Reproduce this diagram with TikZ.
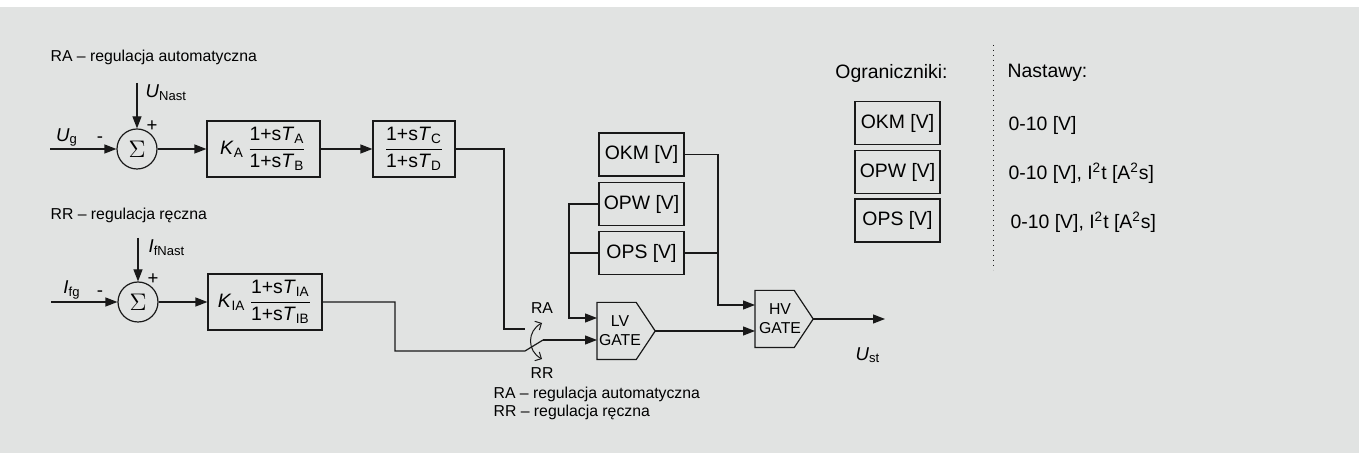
\documentclass[tikz,border=0pt]{standalone}
\usepackage{amsmath}
\usepackage{fontspec}
\setmainfont{Liberation Sans}
\usetikzlibrary{arrows.meta}

\definecolor{bgGrey}{RGB}{225,227,226}
\definecolor{lineDark}{RGB}{25,25,25}

\newcommand{\smallTxt}{\fontsize{7.9}{9.5}\selectfont}
\newcommand{\bigTxt}{\fontsize{9.7}{11.5}\selectfont}
\newcommand{\trfrac}[2]{$\dfrac{\text{#1}}{\text{#2}}$}
% outline of a gate node: flat west side, pointed east side
\newcommand{\gateOutline}[1]{%
    \draw (#1.north west) -- ([xshift=-9.5pt]#1.north east) -- (#1.east)
        -- ([xshift=-9.5pt]#1.south east) -- (#1.south west) -- cycle;}

\begin{document}
\begin{tikzpicture}[x=0.5pt,y=-0.5pt,
    line width=0.6pt, draw=lineDark, >={Triangle[length=6pt,width=4.5pt]},
    block/.style={draw, minimum height=28pt, inner sep=1pt, font=\bigTxt},
    limiter/.style={draw, minimum width=42.5pt, minimum height=21.5pt, inner sep=1pt, font=\bigTxt},
    summer/.style={draw, circle, minimum size=20pt, inner sep=0pt},
    gatebox/.style={minimum width=28.5pt, minimum height=28pt, inner sep=0pt, anchor=west},
    gatetxt/.style={align=center, font=\smallTxt, inner sep=0pt},
    note/.style={font=\smallTxt, anchor=west, inner sep=0pt},
    lbl/.style={font=\fontsize{9.3}{11}\selectfont, inner sep=0pt}]
    \useasboundingbox (0,0) rectangle (1359,453);
    \fill[white] (0,0) rectangle (1359,453);
    \fill[bgGrey] (0,7) rectangle (1359,453);

    % upper branch: RA
    \node[note] (raTitle) at (50,57) {RA -- regulacja automatyczna};
    \coordinate (Ug) at (50,149);
    \coordinate (UNast) at (137,83);
    \node[summer] (sumA) at (137,149) {\fontsize{13}{15}\selectfont$\Sigma$};
    \node[block, minimum width=56.5pt] (KA) at (263.5,149)
        {\textit{K}\textsubscript{A}\,\trfrac{1+s\textit{T}\textsubscript{A}}{1+s\textit{T}\textsubscript{B}}};
    \node[block, minimum width=41pt] (CD) at (414,149)
        {\trfrac{1+s\textit{T}\textsubscript{C}}{1+s\textit{T}\textsubscript{D}}};
    \node[lbl] at (67,137) {\textit{U}\textsubscript{g}};
    \node[lbl] at (100,140) {-};
    \node[lbl] at (152,126) {+};
    \node[lbl, anchor=west] at (145,93) {\textit{U}\textsubscript{Nast}};

    % lower branch: RR
    \node[note] (rrTitle) at (50,215) {RR -- regulacja ręczna};
    \coordinate (Ifg) at (51,302);
    \coordinate (IfNast) at (138,238);
    \node[summer] (sumB) at (138,302) {\fontsize{13}{15}\selectfont$\Sigma$};
    \node[block, minimum width=57pt] (KIA) at (265,302)
        {\textit{K}\textsubscript{IA}\,\trfrac{1+s\textit{T}\textsubscript{IA}}{1+s\textit{T}\textsubscript{IB}}};
    \node[lbl] at (72,290) {\textit{I}\textsubscript{fg}};
    \node[lbl] at (100,294) {-};
    \node[lbl] at (153,279) {+};
    \node[lbl, anchor=west] at (148,248) {\textit{I}\textsubscript{fNast}};

    \draw[->] (Ug) -- (sumA);
    \draw[->] (UNast) -- (sumA);
    \draw[->] (sumA) -- (KA);
    \draw[->] (KA) -- (CD);
    \draw[->] (Ifg) -- (sumB);
    \draw[->] (IfNast) -- (sumB);
    \draw[->] (sumB) -- (KIA);

    % switch RA / RR
    \coordinate (bendA) at (504,329);
    \coordinate (swA) at (525,329);
    \coordinate (bendB) at (395,351);
    \coordinate (swB) at (525,351);
    \coordinate (swC) at (543,340);
    \node[font=\smallTxt, inner sep=0pt] (swRA) at (542,308) {RA};
    \node[font=\smallTxt, inner sep=0pt] (swRR) at (542,373) {RR};
    \draw[{Straight Barb[angle=90:3.5pt]}-{Straight Barb[angle=90:3.5pt]}, line width=0.5pt]
        (542,323) .. controls (527,331) and (527,351) .. (542,359);

    % gates and limiters
    \node[gatebox] (LV) at (597,331) {};
    \gateOutline{LV}
    \node[gatetxt] (LVtxt) at ([xshift=11.5pt]LV.west) {LV\\GATE};
    \node[gatebox] (HV) at (755,319) {};
    \gateOutline{HV}
    \node[gatetxt] (HVtxt) at ([xshift=12.5pt]HV.west) {HV\\GATE};
    \node[limiter] (OKM) at (641.5,154.5) {OKM [V]};
    \node[limiter] (OPW) at (641.5,204) {OPW [V]};
    \node[limiter] (OPS) at (641.5,253) {OPS [V]};
    \coordinate (Ust) at (885,319);
    \node[lbl] at (868,355) {\textit{U}\textsubscript{st}};

    \draw (CD.east) -| (bendA) -- (swA);
    \draw (KIA.east) -| (bendB) -- (swB) -- (swC);
    \draw[->] (swC) -- ([yshift=-4.5pt]LV.west);
    \draw[->] (OPW.west) -| ([xshift=-14pt,yshift=6.5pt]LV.west) -- ([yshift=6.5pt]LV.west);
    \draw (OPS.west) -- ++(-15pt,0);
    \draw[->] (OKM.east) -| ([xshift=-18.5pt,yshift=7pt]HV.west) -- ([yshift=7pt]HV.west);
    \draw (OPS.east) -- ++(17pt,0);
    \draw[->] (LV.east) -- ([yshift=-6pt]HV.west);
    \draw[->] (HV.east) -- (Ust);

    \node[note] (legRA) at (493,394) {RA -- regulacja automatyczna};
    \node[note] (legRR) at (493,412) {RR -- regulacja ręczna};

    % legend
    \node[font=\bigTxt] (ogr) at (891.5,73) {Ograniczniki:};
    \node[font=\bigTxt, anchor=west, inner sep=0pt] (nast) at (1007,73) {Nastawy:};
    \draw[dotted, line width=0.5pt] (993,45) -- (993,270);
    \node[limiter] (legOKM) at (897.5,123) {OKM [V]};
    \node[limiter] (legOPW) at (897.5,172) {OPW [V]};
    \node[limiter] (legOPS) at (897.5,220.5) {OPS [V]};
    \node[font=\bigTxt, anchor=west, inner sep=0pt] at (1008,125) {0-10 [V]};
    \node[font=\bigTxt, anchor=west, inner sep=0pt] at (1008,173)
        {0-10 [V], I\textsuperscript{2}t [A\textsuperscript{2}s]};
    \node[font=\bigTxt, anchor=west, inner sep=0pt] at (1010,222)
        {0-10 [V], I\textsuperscript{2}t [A\textsuperscript{2}s]};
\end{tikzpicture}
\end{document}
